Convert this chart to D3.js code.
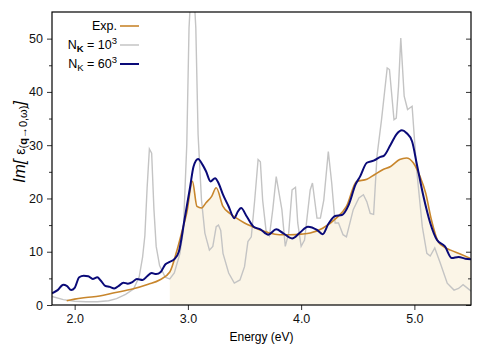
<!DOCTYPE html>
<html>
<head>
<meta charset="utf-8">
<script src="https://cdn.jsdelivr.net/npm/d3@7"></script>
<style>
body { margin: 0; background: #fff; }
text { font-family: "Liberation Sans", Arial, sans-serif; }
</style>
</head>
<body>
<script>
var w = 500;
var h = 350;

// experimental spectrum
var expE = [1.93, 2.0, 2.1, 2.22, 2.35, 2.51, 2.65, 2.75, 2.84, 2.90, 2.95, 2.99, 3.04, 3.08, 3.12, 3.16, 3.21, 3.25, 3.31, 3.37, 3.43, 3.50, 3.57, 3.65, 3.72, 3.81, 3.90, 4.0, 4.08, 4.19, 4.31, 4.40, 4.49, 4.58, 4.65, 4.72, 4.79, 4.87, 4.93, 4.99, 5.05, 5.10, 5.15, 5.21, 5.27, 5.32, 5.40, 5.49];
var expV = [0.8, 1.1, 1.4, 1.7, 2.3, 3.0, 3.9, 4.7, 6.2, 10.0, 14.0, 17.3, 23.2, 18.5, 18.2, 19.2, 20.4, 22.0, 18.5, 17.2, 16.3, 15.4, 14.7, 14.0, 13.5, 13.2, 13.2, 13.3, 13.5, 14.4, 16.3, 18.5, 23.2, 23.6, 24.5, 25.4, 26.0, 27.3, 27.6, 26.7, 24.1, 21.0, 16.0, 11.9, 10.8, 10.3, 9.6, 8.8];

// N_K = 10^3
var k10E = [1.8, 1.9, 2.0, 2.1, 2.2, 2.3, 2.37, 2.45, 2.52, 2.57, 2.60, 2.62, 2.64, 2.66, 2.68, 2.70, 2.72, 2.75, 2.80, 2.84, 2.88, 2.93, 2.96, 2.99, 3.01, 3.04, 3.07, 3.09, 3.12, 3.15, 3.19, 3.22, 3.25, 3.27, 3.29, 3.31, 3.36, 3.41, 3.46, 3.50, 3.53, 3.56, 3.59, 3.62, 3.64, 3.66, 3.69, 3.72, 3.75, 3.78, 3.83, 3.86, 3.89, 3.92, 3.95, 3.97, 4.00, 4.03, 4.08, 4.10, 4.14, 4.17, 4.20, 4.24, 4.27, 4.30, 4.33, 4.37, 4.40, 4.46, 4.51, 4.55, 4.58, 4.61, 4.64, 4.67, 4.71, 4.76, 4.78, 4.82, 4.84, 4.86, 4.88, 4.91, 4.94, 4.98, 5.02, 5.07, 5.11, 5.14, 5.18, 5.23, 5.29, 5.35, 5.39, 5.43, 5.49, 5.5];
var k10V = [1.6, 1.0, 0.7, 0.6, 0.6, 0.8, 1.2, 2.0, 3.0, 5.3, 9.0, 13.0, 22.0, 29.3, 28.5, 18.0, 11.0, 7.4, 5.2, 4.9, 6.0, 9.7, 14.0, 30.0, 52.0, 64.0, 52.0, 32.0, 19.7, 13.5, 10.3, 11.0, 14.7, 15.0, 14.0, 9.7, 6.0, 4.1, 4.7, 7.2, 11.9, 12.8, 19.7, 27.3, 26.9, 19.7, 14.0, 13.0, 18.0, 24.1, 17.9, 11.0, 13.5, 21.6, 22.1, 15.4, 11.0, 12.2, 21.6, 22.9, 16.3, 16.3, 19.7, 28.8, 22.9, 15.4, 15.4, 13.2, 12.8, 17.9, 20.1, 20.7, 19.4, 17.2, 17.0, 28.0, 34.8, 44.5, 44.2, 34.8, 35.1, 41.0, 50.1, 39.2, 36.7, 37.3, 25.4, 14.7, 9.7, 9.2, 10.7, 7.8, 4.1, 2.8, 3.1, 3.8, 2.8, 2.6];

// N_K = 60^3
var k60E = [1.8, 1.85, 1.9, 1.93, 1.97, 2.0, 2.04, 2.08, 2.12, 2.16, 2.2, 2.23, 2.27, 2.31, 2.35, 2.39, 2.43, 2.47, 2.51, 2.55, 2.6, 2.64, 2.68, 2.72, 2.76, 2.8, 2.84, 2.88, 2.92, 2.97, 3.02, 3.05, 3.09, 3.13, 3.16, 3.20, 3.24, 3.27, 3.31, 3.36, 3.41, 3.44, 3.47, 3.52, 3.58, 3.64, 3.71, 3.78, 3.84, 3.92, 3.99, 4.06, 4.14, 4.19, 4.24, 4.30, 4.36, 4.42, 4.48, 4.52, 4.58, 4.64, 4.70, 4.73, 4.79, 4.84, 4.89, 4.93, 4.98, 5.02, 5.08, 5.14, 5.20, 5.27, 5.33, 5.39, 5.45, 5.5];
var k60V = [2.2, 2.8, 3.8, 3.6, 2.8, 3.2, 5.2, 5.5, 5.4, 4.9, 5.2, 4.6, 3.6, 3.4, 3.1, 3.6, 4.2, 4.0, 4.3, 4.9, 4.7, 5.4, 6.0, 5.8, 6.2, 7.6, 8.1, 8.6, 10.0, 16.0, 22.2, 26.0, 27.4, 26.3, 25.1, 23.2, 23.8, 22.9, 20.7, 18.5, 16.3, 17.5, 18.2, 16.6, 14.7, 14.2, 13.2, 14.2, 13.5, 12.5, 13.6, 14.7, 14.1, 13.3, 15.2, 16.7, 16.9, 18.8, 22.6, 24.1, 26.7, 27.1, 27.8, 28.0, 30.1, 32.0, 32.8, 32.3, 30.7, 26.6, 20.4, 15.4, 12.2, 11.0, 8.8, 9.0, 8.7, 8.6];

var xTicks = [2.0, 3.0, 4.0, 5.0];
var yTicks = [0, 10, 20, 30, 40, 50];
var yMinor = [5, 15, 25, 35, 45];
var fillFrom = 2.84;

var pL = 52, pT = 12, pR = 471, pB = 305;

var x = d3.scaleLinear().domain([1.8, 5.5]).range([pL, pR]);
var y = d3.scaleLinear().domain([0, 55]).range([pB, pT]);

function pts(E, V) {
    return E.map(function (e, i) { return [e, V[i]]; });
}

var expData = pts(expE, expV);
var k10Data = pts(k10E, k10V);
var k60Data = pts(k60E, k60V);

var svg = d3.select("body")
    .append("svg")
    .attr("width", w)
    .attr("height", h);

svg.append("clipPath")
    .attr("id", "clip")
    .append("rect")
    .attr("x", pL)
    .attr("y", pT)
    .attr("width", pR - pL)
    .attr("height", pB - pT);

var plot = svg.append("g").attr("clip-path", "url(#clip)");

var line = d3.line()
    .x(function (d) { return x(d[0]); })
    .y(function (d) { return y(d[1]); });

var smooth = d3.line()
    .curve(d3.curveMonotoneX)
    .x(function (d) { return x(d[0]); })
    .y(function (d) { return y(d[1]); });

var area = d3.area()
    .curve(d3.curveMonotoneX)
    .x(function (d) { return x(d[0]); })
    .y0(y(0))
    .y1(function (d) { return y(d[1]); });

plot.append("path")
    .datum(expData.filter(function (d) { return d[0] >= fillFrom; }).concat([[5.5, 8.7]]))
    .attr("d", area)
    .attr("fill", "#fbf5e7");

plot.append("path")
    .datum(k10Data)
    .attr("d", line)
    .attr("fill", "none")
    .attr("stroke", "#c4c4c4")
    .attr("stroke-width", 1.4);

plot.append("path")
    .datum(expData)
    .attr("d", smooth)
    .attr("fill", "none")
    .attr("stroke", "#c8862c")
    .attr("stroke-width", 1.6);

plot.append("path")
    .datum(k60Data)
    .attr("d", smooth)
    .attr("fill", "none")
    .attr("stroke", "#0a0a78")
    .attr("stroke-width", 2);

// axes
var xAxis = d3.axisBottom(x).tickValues(xTicks).tickFormat(d3.format(".1f")).tickSize(5).tickPadding(4);
svg.append("g").attr("transform", "translate(0," + pB + ")").call(xAxis);

var yAxis = d3.axisLeft(y).tickValues(yTicks).tickSize(5).tickPadding(4);
svg.append("g").attr("transform", "translate(" + pL + ",0)").call(yAxis);

svg.append("g").attr("transform", "translate(" + pR + ",0)")
    .call(d3.axisLeft(y).tickValues(yTicks).tickSize(5).tickFormat(""));

svg.append("g").attr("transform", "translate(" + pL + ",0)")
    .call(d3.axisLeft(y).tickValues(yMinor).tickSize(3).tickFormat(""));
svg.append("g").attr("transform", "translate(" + pR + ",0)")
    .call(d3.axisLeft(y).tickValues(yMinor).tickSize(3).tickFormat(""));

svg.selectAll(".domain").remove();
svg.selectAll(".tick line").attr("stroke", "#333");
svg.selectAll(".tick text").attr("font-size", 12.5).attr("fill", "#111")
    .attr("font-family", "Liberation Sans, Arial, sans-serif");

// frame
svg.append("rect")
    .attr("x", pL)
    .attr("y", pT)
    .attr("width", pR - pL)
    .attr("height", pB - pT)
    .attr("fill", "none")
    .attr("stroke", "#000")
    .attr("stroke-width", 1.2);

svg.append("text")
    .attr("x", (pL + pR) / 2)
    .attr("y", 341)
    .attr("text-anchor", "middle")
    .attr("font-size", 12)
    .text("Energy (eV)");

// y title
var yt = svg.append("text")
    .attr("transform", "translate(25,142) rotate(-90)")
    .attr("text-anchor", "middle")
    .attr("font-family", "Liberation Serif, serif");
yt.append("tspan").attr("font-style", "italic").attr("font-size", 17).text("Im[ ");
yt.append("tspan").attr("font-size", 14).text("ε");
yt.append("tspan").attr("font-size", 11).attr("font-family", "Liberation Sans, Arial, sans-serif").attr("dy", 1.5).text("(");
yt.append("tspan").attr("font-size", 11).attr("font-weight", "bold").attr("font-family", "Liberation Sans, Arial, sans-serif").text("q");
yt.append("tspan").attr("font-size", 11).attr("font-family", "Liberation Sans, Arial, sans-serif").text("→0,ω)");
yt.append("tspan").attr("font-style", "italic").attr("font-size", 17).attr("dy", -1.5).text("]");

// legend
var legendNames = ["Exp.", "N", "N"];
var legendColors = ["#c8862c", "#c4c4c4", "#0a0a78"];
var legendWidths = [1.6, 1.5, 2];
var legendPows = ["", "10", "60"];
var legendBold = [false, true, false];

legendNames.forEach(function (name, i) {
    var ly = 26 + i * 19;
    var t = svg.append("text")
        .attr("x", 117)
        .attr("y", ly + 4)
        .attr("text-anchor", "end")
        .attr("font-size", 12.5);
    t.append("tspan").text(name);
    if (legendPows[i]) {
        t.append("tspan").attr("font-size", 9.5).attr("dy", 3)
            .attr("font-weight", legendBold[i] ? "bold" : "normal").text("K");
        t.append("tspan").attr("dy", -3).text(" = " + legendPows[i]);
        t.append("tspan").attr("font-size", 9.5).attr("dy", -5).text("3");
    }
    svg.append("line")
        .attr("x1", 120)
        .attr("x2", 139)
        .attr("y1", ly)
        .attr("y2", ly)
        .attr("stroke", legendColors[i])
        .attr("stroke-width", legendWidths[i]);
});
</script>
</body>
</html>
